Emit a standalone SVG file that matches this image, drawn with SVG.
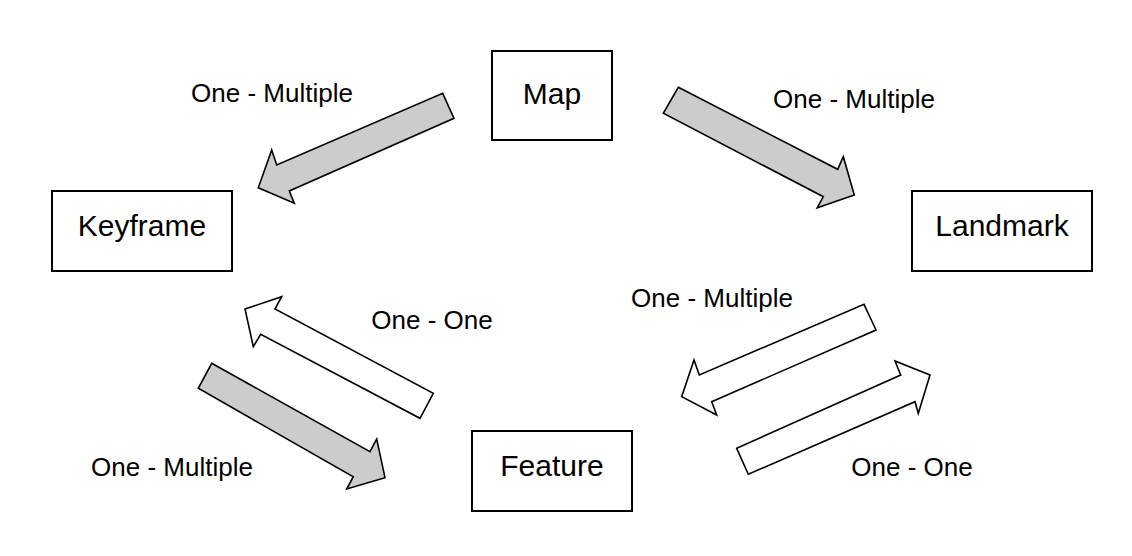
<svg xmlns="http://www.w3.org/2000/svg" width="1132" height="556" viewBox="0 0 1132 556">
<style>
.box{fill:#fff;stroke:#000;stroke-width:2}
.t{font-family:"Liberation Sans",Arial,sans-serif;font-size:30px;fill:#000;text-anchor:middle}
.l{font-family:"Liberation Sans",Arial,sans-serif;font-size:26px;fill:#000;text-anchor:middle}
.ag{fill:#cccccc;stroke:#000;stroke-width:1.6;stroke-linejoin:miter}
.aw{fill:#fff;stroke:#000;stroke-width:1.6;stroke-linejoin:miter}
</style>
<rect width="1132" height="556" fill="#fff"/>
<g id="map"><rect class="box" x="492" y="51" width="120" height="89"/><text class="t" x="552" y="104">Map</text></g>
<g id="keyframe"><rect class="box" x="52" y="191" width="180" height="80"/><text class="t" x="142" y="236">Keyframe</text></g>
<g id="landmark"><rect class="box" x="912" y="191" width="180" height="80"/><text class="t" x="1002" y="236">Landmark</text></g>
<g id="feature"><rect class="box" x="472" y="431" width="160" height="80"/><text class="t" x="552" y="476">Feature</text></g>
<g id="connectors">
<polygon class="ag" points="442.7,93.3 454,118.3 289.3,191 294.3,203.3 258.3,187.7 271.7,150 276.7,165"/>
<polygon class="ag" points="678.3,87.3 837.7,169.3 843.3,156.7 854.3,195 817.3,207.7 823.3,196.7 663.3,113.3"/>
<polygon class="aw" points="245,309 281.7,296.7 275,309 433.3,393.3 420,418.3 260.7,334.3 253.3,346.7"/>
<polygon class="ag" points="211.7,363.3 370,451.7 376.7,439 385,477.7 346.7,489 353.3,476.7 198.3,388.3"/>
<polygon class="aw" points="864,304.3 876,330 711.7,401.7 716.7,415 681.7,396.7 694,360 699.3,375"/>
<polygon class="aw" points="736.7,448.3 900.7,375 895,361 930,375 918.3,413.3 915,401.7 748.3,474.3"/>
</g>
<g id="labels">
<text class="l" x="272" y="102">One - Multiple</text>
<text class="l" x="854" y="108">One - Multiple</text>
<text class="l" x="712" y="307">One - Multiple</text>
<text class="l" x="432" y="329">One - One</text>
<text class="l" x="172" y="476">One - Multiple</text>
<text class="l" x="912" y="476">One - One</text>
</g>
</svg>
